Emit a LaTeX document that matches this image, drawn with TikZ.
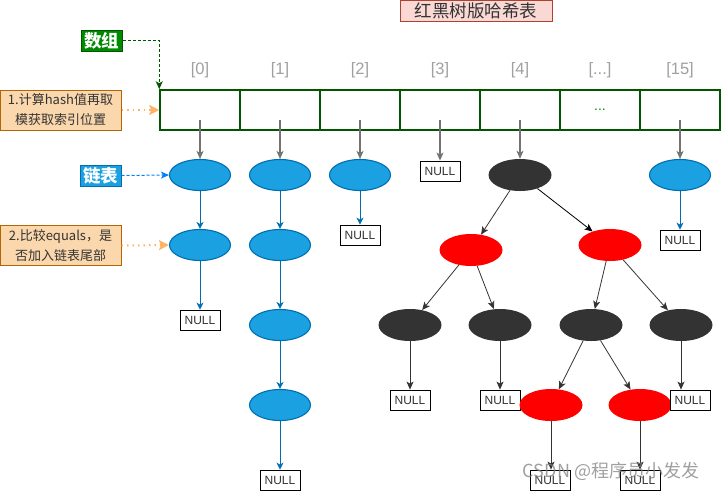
\documentclass[tikz,border=0pt]{standalone}
\usepackage{fontspec}
\setmainfont{Liberation Sans}
\newfontfamily\cjk{Noto Sans CJK SC}
\usetikzlibrary{shapes.geometric,arrows.meta}
\definecolor{arrgreen}{HTML}{005700}
\definecolor{arrfill}{HTML}{008A00}
\definecolor{bluefill}{HTML}{1BA1E2}
\definecolor{bluestroke}{HTML}{006EAF}
\definecolor{orfill}{HTML}{FAD7AC}
\definecolor{orstroke}{HTML}{B46504}
\definecolor{orarrow}{HTML}{FFB366}
\definecolor{pinkfill}{HTML}{FAD9D5}
\definecolor{pinkstroke}{HTML}{AE4132}
\definecolor{darknode}{HTML}{333333}
\definecolor{lblgray}{HTML}{A0A0A0}
\definecolor{dashblue}{HTML}{007FFF}
\begin{document}
\begin{tikzpicture}[x=1pt,y=-1pt,
  cell/.style={draw=arrgreen,line width=1.5pt,fill=white,rectangle,minimum width=80pt,minimum height=40pt,inner sep=0pt},
  idx/.style={text=lblgray,font=\fontsize{16.5}{16.5}\selectfont,inner sep=0pt},
  blueel/.style={ellipse,draw=bluestroke,line width=1.1pt,fill=bluefill,minimum width=61pt,minimum height=31pt,inner sep=0pt},
  blackel/.style={ellipse,fill=darknode,minimum width=63pt,minimum height=32pt,inner sep=0pt},
  redel/.style={ellipse,fill=red,minimum width=63pt,minimum height=32pt,inner sep=0pt},
  nullbox/.style={rectangle,draw=black,line width=0.8pt,fill=white,minimum width=40pt,minimum height=20pt,inner sep=0pt,text=darknode,font=\fontsize{12}{12}\selectfont},
  notebox/.style={rectangle,draw=orstroke,line width=1pt,fill=orfill,minimum width=121pt,minimum height=40pt,inner sep=0pt,align=center,text=darknode,font=\cjk\fontsize{13}{20}\selectfont},
  garrow/.style={draw=gray,line width=1.2pt,-{Stealth[length=8pt,width=7pt,inset=2pt]},color=gray!90!black},
  barrow/.style={draw=bluestroke,line width=1pt,-{Stealth[length=7pt,width=7pt,inset=2pt]}},
  karrow/.style={draw=darknode,line width=0.8pt,-{Stealth[length=8pt,width=7pt,inset=2pt]}},
  odot/.style={draw=orarrow,line width=2pt,dash pattern=on 1.5pt off 4pt,-{Stealth[length=10pt,width=10pt,inset=2pt]}},
]
\useasboundingbox (0,0) rectangle (722,491);

% title
\node[rectangle,draw=pinkstroke,fill=pinkfill,line width=1pt,minimum width=152pt,minimum height=21pt,inner sep=0pt,text=darknode,font=\cjk\fontsize{17.5}{17.5}\selectfont] (title) at (476,10.5) {红黑树版哈希表};

% array cells
\node[cell] (c0) at (200,110) {};
\node[cell] (c1) at (280,110) {};
\node[cell] (c2) at (360,110) {};
\node[cell] (c3) at (440,110) {};
\node[cell] (c4) at (520,110) {};
\node[cell,text=arrfill,font=\fontsize{14}{14}\selectfont] (c5) at (600,110) {...};
\node[cell] (c6) at (680,110) {};

\node[idx] (i0) at (200,70) {[0]};
\node[idx] (i1) at (280,70) {[1]};
\node[idx] (i2) at (360,70) {[2]};
\node[idx] (i3) at (440,70) {[3]};
\node[idx] (i4) at (520,70) {[4]};
\node[idx] (i5) at (600,70) {[...]};
\node[idx] (i6) at (680,70) {[15]};

% labels
\node[rectangle,draw=arrgreen,fill=arrfill,line width=1pt,text=white,minimum width=41pt,minimum height=21pt,inner sep=0pt,font=\cjk\bfseries\fontsize{17.5}{17.5}\selectfont] (arr) at (101.5,40.5) {数组};
\node[rectangle,draw=bluestroke,fill=bluefill,line width=1pt,text=white,minimum width=41pt,minimum height=21pt,inner sep=0pt,font=\cjk\bfseries\fontsize{17.5}{17.5}\selectfont] (lst) at (100.5,175.5) {链表};
\node[notebox] (s1) at (60.5,110) {1.计算hash值再取\\模获取索引位置};
\node[notebox] (s2) at (60.5,245.5) {2.比较equals，是\\否加入链表尾部};

% column 0
\node[blueel] (b0a) at (200,175) {};
\node[blueel] (b0b) at (200,245) {};
\node[nullbox] (n0) at (200,320) {NULL};
% column 1
\node[blueel] (b1a) at (280,175) {};
\node[blueel] (b1b) at (280,245) {};
\node[blueel] (b1c) at (280,325) {};
\node[blueel] (b1d) at (280,405) {};
\node[nullbox] (n1) at (280,480) {NULL};
% column 2
\node[blueel] (b2a) at (360,175) {};
\node[nullbox] (n2) at (360,235) {NULL};
% column 3
\node[nullbox] (n3) at (440,171) {NULL};
% column 15
\node[blueel] (b6) at (680,175) {};
\node[nullbox] (n6) at (680,240) {NULL};

% tree
\node[blackel] (r) at (520,175) {};
\node[redel] (rl) at (471,250) {};
\node[redel] (rr) at (610,245) {};
\node[blackel] (k1) at (410,325) {};
\node[blackel] (k2) at (500,325) {};
\node[blackel] (k3) at (591,325) {};
\node[blackel] (k4) at (681,325) {};
\node[nullbox] (nk1) at (410,400) {NULL};
\node[nullbox] (nk2) at (500,400) {NULL};
\node[redel] (q1) at (551,405) {};
\node[redel] (q2) at (640,405) {};
\node[nullbox] (nk4) at (690,400) {NULL};
\node[nullbox] (nq1) at (550,480) {NULL};
\node[nullbox] (nq2) at (640,480) {NULL};

% connectors from the array
\draw[garrow] ([yshift=-10pt]c0.center) -- (b0a);
\draw[garrow] ([yshift=-10pt]c1.center) -- (b1a);
\draw[garrow] ([yshift=-10pt]c2.center) -- (b2a);
\draw[garrow] ([yshift=-10pt]c3.center) -- (n3);
\draw[garrow] ([yshift=-10pt]c4.center) -- (r);
\draw[garrow] ([yshift=-10pt]c6.center) -- (b6);

% linked lists
\draw[barrow] (b0a) -- (b0b);
\draw[barrow] (b0b) -- (n0);
\draw[barrow] (b1a) -- (b1b);
\draw[barrow] (b1b) -- (b1c);
\draw[barrow] (b1c) -- (b1d);
\draw[barrow] (b1d) -- (n1);
\draw[barrow] (b2a) -- (n2);
\draw[barrow] (b6) -- (n6);

% tree edges
\draw[karrow] (r) -- (rl);
\draw[karrow,draw=black] (r) -- (rr);
\draw[karrow] (rl) -- (k1);
\draw[karrow] (rl) -- (k2);
\draw[karrow] (rr) -- (k3);
\draw[karrow] (rr) -- (k4);
\draw[karrow] (k1) -- (nk1);
\draw[karrow] (k2) -- (nk2);
\draw[karrow] (k3) -- (q1);
\draw[karrow] (k3) -- (q2);
\draw[karrow] (k4) -- (k4 |- nk4.north);
\draw[karrow] (q1) -- (q1 |- nq1.north);
\draw[karrow] (q2) -- (nq2);

% annotation arrows
\draw[draw=arrgreen,line width=1pt,dash pattern=on 3pt off 2pt,-{Stealth[length=8pt,width=7pt,inset=2pt]}] (arr.east) -| (c0.north west);
\draw[draw=dashblue,line width=1pt,dash pattern=on 3pt off 2pt,-{Stealth[length=8pt,width=7pt,inset=2pt]}] (lst.east) -- (b0a.west);
\draw[odot] (s1.east) -- (c0.west);
\draw[odot] (s2.east) -- (b0b.west);

% watermark
\node[text=gray,opacity=0.75,font=\cjk\fontsize{18}{18}\selectfont,inner sep=0pt] (wm) at (611,471) {CSDN @程序员小发发};
\end{tikzpicture}
\end{document}
